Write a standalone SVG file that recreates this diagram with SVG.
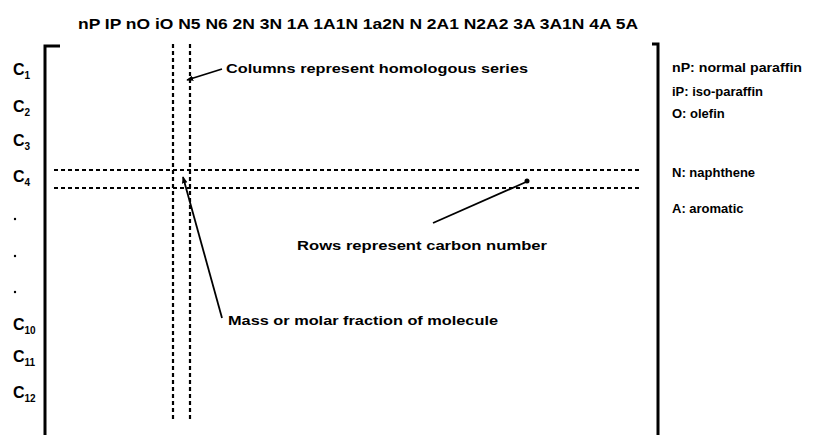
<svg xmlns="http://www.w3.org/2000/svg" width="827" height="435" viewBox="0 0 827 435">
<defs>
<style>
.t{font-family:"Liberation Sans",Arial,sans-serif;fill:#000}
.hdr{font-size:15px;font-weight:bold}
.c{font-size:16px;font-weight:bold}
.sub{font-size:10px}
.ann{font-size:13.5px;font-weight:bold}
.leg{font-size:13px;font-weight:bold}
.br{stroke:#000;stroke-width:3;fill:none}
.dot{stroke:#000;stroke-width:2.2;stroke-dasharray:4 3;fill:none}
.ld{stroke:#000;stroke-width:1.8;fill:none}
</style>
<marker id="ah" viewBox="0 0 10 10" refX="9" refY="5" markerWidth="7" markerHeight="7" orient="auto-start-reverse" markerUnits="userSpaceOnUse">
<path d="M0,1 L10,5 L0,9 z" fill="#000"/>
</marker>
</defs>
<rect width="827" height="435" fill="#fff"/>
<g id="header">
<text class="t hdr" x="78" y="29" textLength="560" lengthAdjust="spacingAndGlyphs">nP IP nO iO N5 N6 2N 3N 1A 1A1N 1a2N N 2A1 N2A2 3A 3A1N 4A 5A</text>
</g>
<g id="brackets">
<path class="br" d="M60,46 H45 V435"/>
<path class="br" d="M652,44 H658 V435"/>
</g>
<g id="row-labels">
<text class="t c" x="13" y="75">C<tspan class="sub" dy="4">1</tspan></text>
<text class="t c" x="13" y="112">C<tspan class="sub" dy="4">2</tspan></text>
<text class="t c" x="13" y="146">C<tspan class="sub" dy="4">3</tspan></text>
<text class="t c" x="13" y="182">C<tspan class="sub" dy="4">4</tspan></text>
<circle cx="15" cy="219" r="1.2" fill="#000"/>
<circle cx="15" cy="256" r="1.2" fill="#000"/>
<circle cx="15" cy="292" r="1.2" fill="#000"/>
<text class="t c" x="13" y="330">C<tspan class="sub" dy="4">10</tspan></text>
<text class="t c" x="13" y="362">C<tspan class="sub" dy="4">11</tspan></text>
<text class="t c" x="13" y="398">C<tspan class="sub" dy="4">12</tspan></text>
</g>
<g id="grid-lines">
<line class="dot" x1="173" y1="44" x2="173" y2="420"/>
<line class="dot" x1="190" y1="44" x2="190" y2="420"/>
<line class="dot" x1="54" y1="170" x2="642" y2="170"/>
<line class="dot" x1="54" y1="188" x2="642" y2="188"/>
</g>
<g id="connectors">
<line class="ld" x1="222" y1="69" x2="187" y2="80" marker-end="url(#ah)"/>
<line class="ld" x1="433" y1="223" x2="526" y2="182"/>
<circle cx="527" cy="181" r="2.5" fill="#000"/>
<line class="ld" x1="222" y1="318" x2="183" y2="177" marker-end="url(#ah)"/>
</g>
<g id="annotations">
<text class="t ann" x="226" y="73" textLength="302" lengthAdjust="spacingAndGlyphs">Columns represent homologous series</text>
<text class="t ann" x="297" y="250" textLength="250" lengthAdjust="spacingAndGlyphs">Rows represent carbon number</text>
<text class="t ann" x="228" y="325" textLength="270" lengthAdjust="spacingAndGlyphs">Mass or molar fraction of molecule</text>
</g>
<g id="legend">
<text class="t leg" x="672" y="72" textLength="130" lengthAdjust="spacingAndGlyphs">nP: normal paraffin</text>
<text class="t leg" x="672" y="96">iP: iso-paraffin</text>
<text class="t leg" x="672" y="118">O: olefin</text>
<text class="t leg" x="672" y="177">N: naphthene</text>
<text class="t leg" x="672" y="213">A: aromatic</text>
</g>
</svg>
